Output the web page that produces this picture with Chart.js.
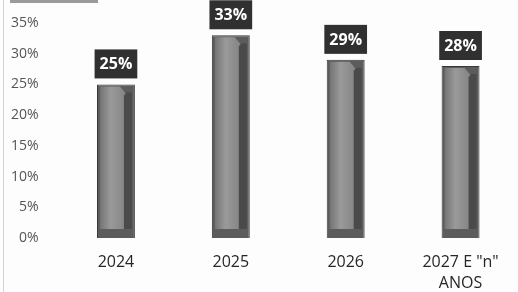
<!DOCTYPE html>
<html>
<head>
<meta charset="utf-8">
<script src="https://cdn.jsdelivr.net/npm/chart.js@4/dist/chart.umd.min.js"></script>
<style>
    html, body { margin: 0; padding: 0; background: #fdfdfd; }
    #wrap { position: relative; width: 518px; height: 292px; }
    #topRule { position: absolute; left: 10px; top: 0; width: 88px; height: 3px; background: #9a9a9a; }
    #leftRule { position: absolute; left: 3px; top: 0; width: 1px; height: 292px; background: #d4d4d4; }
</style>
</head>
<body>
<div id="wrap">
    <div id="topRule"></div>
    <div id="leftRule"></div>
    <canvas id="chart" width="518" height="292"></canvas>
</div>
<script>
// Chart data
const categories = ['2024', '2025', '2026', ['2027 E "n"', 'ANOS']];
const percentValues = [25, 33, 29, 28];
const yTicks = [0, 5, 10, 15, 20, 25, 30, 35];

// Draws the bevelled face of each bar over the plain bar
const bevelPlugin = {
    id: 'bevel',
    afterDatasetsDraw(chart) {
        const ctx = chart.ctx;
        const meta = chart.getDatasetMeta(0);
        meta.data.forEach(bar => {
            const { x, y, base, width } = bar.getProps(['x', 'y', 'base', 'width'], true);
            const left = x - width / 2;
            const right = x + width / 2;
            const faceL = left + 3;
            const faceR = right - 11;
            const faceT = y + 2;
            const faceB = base - 9;

            ctx.save();
            // right dark side
            ctx.fillStyle = '#4a4a4a';
            ctx.fillRect(faceR, y + 8, right - 3 - faceR, faceB - y - 8);

            // light front face with a chamfer top-right
            const grad = ctx.createLinearGradient(faceL, 0, faceR, 0);
            grad.addColorStop(0, '#747474');
            grad.addColorStop(0.45, '#9a9a9a');
            grad.addColorStop(1, '#868686');
            ctx.fillStyle = grad;
            ctx.beginPath();
            ctx.moveTo(faceL, faceT);
            ctx.lineTo(faceR - 4, faceT);
            ctx.lineTo(faceR + 2, faceT + 7);
            ctx.lineTo(faceR, faceT + 9);
            ctx.lineTo(faceR, faceB);
            ctx.lineTo(faceL, faceB);
            ctx.closePath();
            ctx.fill();
            ctx.restore();
        });
    }
};

// Dark value boxes above each bar
const valueBoxPlugin = {
    id: 'valueBox',
    afterDatasetsDraw(chart) {
        const ctx = chart.ctx;
        const meta = chart.getDatasetMeta(0);
        ctx.save();
        ctx.font = 'bold 16px "Open Sans", sans-serif';
        ctx.textAlign = 'center';
        ctx.textBaseline = 'middle';
        meta.data.forEach((bar, i) => {
            const label = percentValues[i] + '%';
            const boxW = ctx.measureText(label).width + 10;
            const boxH = 29;
            const bottom = bar.y - 6;
            ctx.fillStyle = '#303030';
            ctx.fillRect(bar.x - boxW / 2, bottom - boxH, boxW, boxH);
            ctx.fillStyle = '#ffffff';
            ctx.fillText(label, bar.x, bottom - boxH / 2 + 1);
        });
        ctx.restore();
    }
};

const ctx = document.getElementById('chart').getContext('2d');
const chart = new Chart(ctx, {
    type: 'bar',
    data: {
        labels: categories,
        datasets: [{
            data: percentValues,
            backgroundColor: '#5c5c5c',
            borderColor: '#383838',
            borderWidth: 1,
            categoryPercentage: 1,
            barPercentage: 0.33
        }]
    },
    options: {
        responsive: false,
        animation: false,
        layout: { padding: { top: 23, right: 0, bottom: 0, left: 0 } },
        plugins: {
            legend: { display: false },
            tooltip: { enabled: false }
        },
        scales: {
            x: {
                grid: { display: false },
                border: { display: false },
                ticks: {
                    color: '#262626',
                    padding: 6,
                    maxRotation: 0,
                    autoSkip: false,
                    font: { family: '"Open Sans", sans-serif', size: 16, lineHeight: 1.3 }
                },
                afterFit(scale) { scale.height = 54; }
            },
            y: {
                min: 0,
                max: 35,
                afterBuildTicks(scale) {
                    scale.ticks = yTicks.map(v => ({ value: v }));
                },
                grid: { display: false },
                border: { display: false },
                ticks: {
                    color: '#555555',
                    padding: 12,
                    font: { family: '"Open Sans", sans-serif', size: 14 },
                    callback: value => value + '%'
                },
                afterFit(scale) { scale.width = 58.5; }
            }
        }
    },
    plugins: [bevelPlugin, valueBoxPlugin]
});
</script>
</body>
</html>
